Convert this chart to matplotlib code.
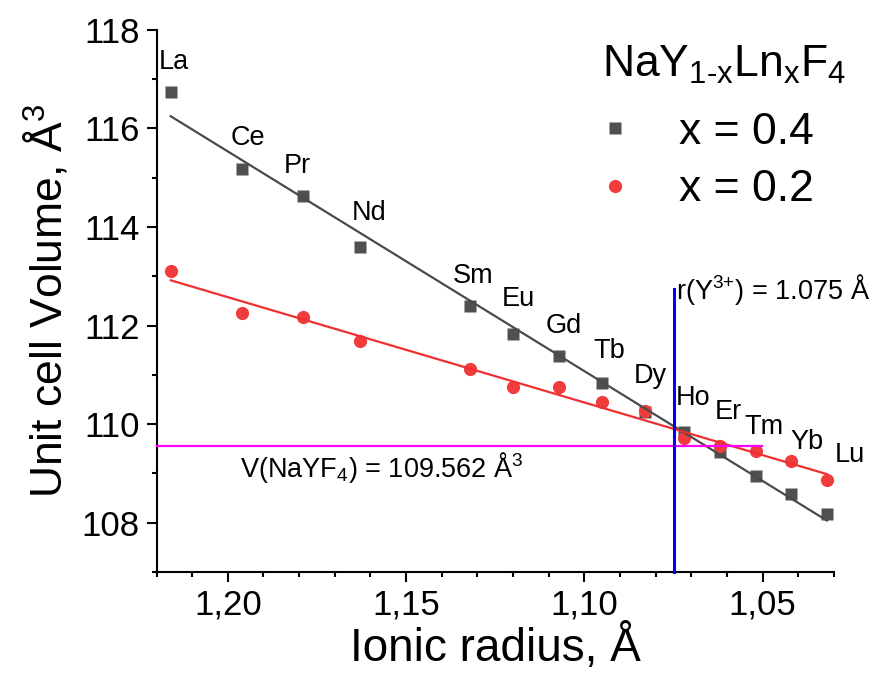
import numpy as np
import matplotlib
matplotlib.use("Agg")
import matplotlib.pyplot as plt
from matplotlib.ticker import MultipleLocator

plt.rcParams['font.family'] = ['Liberation Sans', 'DejaVu Sans']
plt.rcParams['mathtext.fontset'] = 'custom'
plt.rcParams['mathtext.rm'] = 'Liberation Sans'
plt.rcParams['mathtext.it'] = 'Liberation Sans:italic'
plt.rcParams['mathtext.bf'] = 'Liberation Sans:bold'

# data
elements = ["La", "Ce", "Pr", "Nd", "Sm", "Eu", "Gd", "Tb", "Dy", "Ho", "Er", "Tm", "Yb", "Lu"]
radius = [1.216, 1.196, 1.179, 1.163, 1.132, 1.120, 1.107, 1.095, 1.083, 1.072, 1.062, 1.052, 1.042, 1.032]
vol_x04 = [116.73, 115.17, 114.62, 113.60, 112.39, 111.82, 111.38, 110.83, 110.24, 109.84, 109.43, 108.95, 108.59, 108.18]
vol_x02 = [113.10, 112.25, 112.17, 111.68, 111.11, 110.75, 110.76, 110.45, 110.26, 109.72, 109.55, 109.45, 109.25, 108.86]

r_Y = 1.075
V_NaYF4 = 109.562

xticks = [1.20, 1.15, 1.10, 1.05]
xtick_labels = ["1,20", "1,15", "1,10", "1,05"]
yticks = [108, 110, 112, 114, 116, 118]

# label placement (layout only)
label_x = [1.215, 1.1944, 1.1804, 1.1605, 1.1312, 1.1185, 1.1059, 1.093, 1.0815, 1.0696, 1.0597, 1.0497, 1.0375, 1.0256]
label_y = [117.34, 115.81, 115.23, 114.29, 113.0, 112.54, 111.98, 111.49, 110.97, 110.53, 110.24, 109.94, 109.63, 109.37]

gray = "#505050"
red = "#f03c3c"

fig = plt.figure(figsize=(8.77, 6.81), dpi=100)
ax = fig.add_axes([156.5/877, 109/681, (834-156.5)/877, (572-29.7)/681])

ax.plot(radius, vol_x04, 's', color=gray, ms=8, mec='none', label="x = 0.4", zorder=3)
ax.plot(radius, vol_x02, 'o', color=red, ms=9.5, mec='none', label="x = 0.2", zorder=3)

# linear fits
r = np.array(radius)
p4 = np.polyfit(r, vol_x04, 1)
p2 = np.polyfit(r, vol_x02, 1)
xf = np.array([r.max(), r.min()])
ax.plot(xf, np.polyval(p4, xf), '-', color="#4a4a4a", lw=1.6, zorder=4)
ax.plot(xf, np.polyval(p2, xf), '-', color="#f03030", lw=1.6, zorder=4)

# reference lines
ax.plot([1.22, 1.0502], [V_NaYF4, V_NaYF4], '-', color="#ff00ff", lw=1.6, zorder=5, clip_on=False)
ax.plot([r_Y, r_Y], [107, 112.75], '-', color="#0000ff", lw=2.2, zorder=5, clip_on=False)

ax.text(1.1967, 108.93, r"V(NaYF$_{4}$) = 109.562 Å$^{3}$", fontsize=19.5, ha='left', va='baseline')
ax.text(1.0742, 112.53, r"r(Y$^{3\text{+}}$) = 1.075 Å", fontsize=19.5, ha='left', va='baseline')

for el, lx, ly in zip(elements, label_x, label_y):
    ax.text(lx, ly, el, fontsize=19.5, ha='center', va='center')

ax.set_xlim(1.22, 1.03)
ax.set_ylim(107, 118)
ax.set_xticks(xticks)
ax.set_xticklabels(xtick_labels)
ax.set_yticks(yticks)
ax.xaxis.set_minor_locator(MultipleLocator(0.01))
ax.yaxis.set_minor_locator(MultipleLocator(1))

for s in ["top", "right"]:
    ax.spines[s].set_visible(False)
for s in ["left", "bottom"]:
    ax.spines[s].set_linewidth(1.5)

ax.tick_params(which='major', direction='out', length=7, width=1.5, labelsize=25, pad=5)
ax.tick_params(which='minor', direction='out', length=3.8, width=1.5)

ax.set_xlabel("Ionic radius, Å", fontsize=33, labelpad=2)
ax.set_ylabel("Unit cell Volume, Å$^{3}$", fontsize=32, labelpad=8)

fig.text(724/877, 1 - 65/681, r"NaY$_{\mathrm{1\text{-}x}}$Ln$_{\mathrm{x}}$F$_{\mathrm{4}}$", fontsize=32,
         ha='center', va='center')
leg = ax.legend(fontsize=32, frameon=False, loc='upper left',
                bbox_to_anchor=(566/877, 1 - 85/681), bbox_transform=fig.transFigure,
                handlelength=1.0, handletextpad=0.95, labelspacing=0.37, borderpad=0.1)

fig.savefig("out.png", dpi=100)
